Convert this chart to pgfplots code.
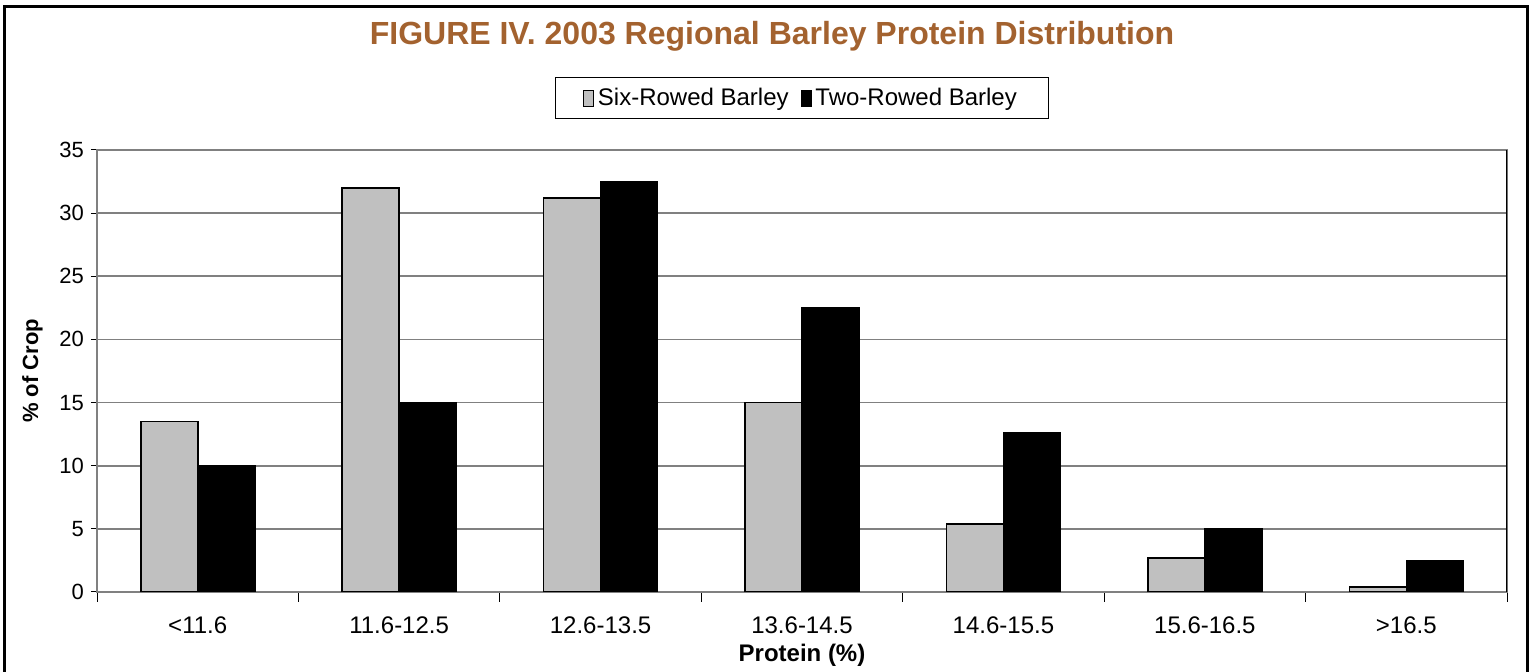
\documentclass[border=0pt]{standalone}
\usepackage{pgfplots}
\pgfplotsset{compat=1.18}
\usepackage{fontspec}
\setmainfont{Liberation Sans}
\definecolor{titlebrown}{RGB}{163,98,47}
\definecolor{sixgray}{RGB}{192,192,192}
\definecolor{gridgray}{RGB}{128,128,128}
\begin{document}
\begin{tikzpicture}[x=0.5pt,y=0.5pt]
\path[use as bounding box] (0,0) rectangle (1531,672);
\draw[line width=1.5pt] (4,0) -- (4,665) -- (1527,665) -- (1527,0);
\node[font=\fontsize{16}{19}\selectfont\bfseries, text=titlebrown] at (772,636) {FIGURE IV. 2003 Regional Barley Protein Distribution};
\coordinate (A) at (97,80);
\begin{axis}[
  at={(A)}, anchor=south west,
  width=705pt, height=221pt, scale only axis,
  ybar=0pt, bar width=28.5pt,
  xmin=-0.5, xmax=6.5, ymin=0, ymax=35,
  ytick={0,5,...,35},
  xtick={0,...,6},
  xtick pos=bottom, ytick pos=left,
  xticklabels={{<11.6},{11.6-12.5},{12.6-13.5},{13.6-14.5},{14.6-15.5},{15.6-16.5},{>16.5}},
  major x tick style={draw=none},
  minor xtick={-0.5,0.5,...,6.5},
  minor tick length=5pt,
  tick align=outside,
  major tick length=3pt,
  /pgf/number format/assume math mode=true,
  ymajorgrids, grid style={gridgray, line width=0.8pt},
  axis line style={gridgray, line width=0.8pt},
  tick style={black, line width=0.5pt},
  x tick label style={font=\fontsize{12}{14}\selectfont, yshift=-6pt},
  y tick label style={font=\fontsize{11}{13}\selectfont},
  xlabel={Protein (\%)}, ylabel={\% of Crop},
  xlabel style={font=\fontsize{12}{14}\selectfont\bfseries, yshift=2pt},
  ylabel style={font=\fontsize{11}{13}\selectfont\bfseries, yshift=1.5pt},
  legend columns=2,
  legend style={at={(0.5,1.1176)}, anchor=center, draw=black, line width=0.6pt,
    font=\fontsize{12}{14}\selectfont, inner xsep=14pt, inner ysep=3pt,
    /tikz/every even column/.append style={column sep=4pt}},
  legend image code/.code={\draw[#1, line width=0.4pt] (0pt,-4pt) rectangle (5pt,4pt);},
]
\addplot[fill=sixgray, draw=black, line width=0.8pt] coordinates {(0,13.5) (1,32.0) (2,31.2) (3,15.0) (4,5.4) (5,2.7) (6,0.4)};
\addplot[fill=black, draw=black, line width=0.8pt] coordinates {(0,10.0) (1,15.0) (2,32.5) (3,22.5) (4,12.6) (5,5.0) (6,2.5)};
\legend{Six-Rowed Barley, Two-Rowed Barley}
\draw[black, line width=0.8pt] (rel axis cs:1,0) -- (rel axis cs:1,1);
\end{axis}
\end{tikzpicture}
\end{document}
